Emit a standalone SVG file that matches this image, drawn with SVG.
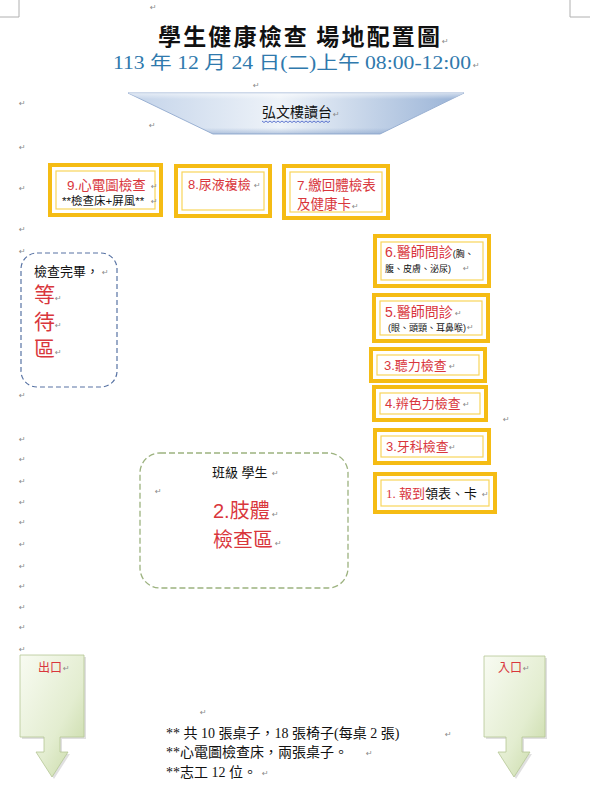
<svg xmlns="http://www.w3.org/2000/svg" width="607" height="800" viewBox="0 0 607 800">
<defs>
<linearGradient id="trapH" x1="0" y1="0" x2="1" y2="0">
<stop offset="0" stop-color="#c3d3e9"/>
<stop offset="0.45" stop-color="#eef3f9"/>
<stop offset="1" stop-color="#98b2d6"/>
</linearGradient>
<linearGradient id="trapV" x1="0" y1="0" x2="0" y2="1">
<stop offset="0" stop-color="#ffffff" stop-opacity="0.55"/>
<stop offset="0.15" stop-color="#ffffff" stop-opacity="0"/>
<stop offset="0.85" stop-color="#7f9cc6" stop-opacity="0"/>
<stop offset="1" stop-color="#7f9cc6" stop-opacity="0.5"/>
</linearGradient>
<linearGradient id="green" x1="0" y1="0" x2="1" y2="1">
<stop offset="0" stop-color="#f8fbf2"/>
<stop offset="0.6" stop-color="#e3edd0"/>
<stop offset="1" stop-color="#c4d7a0"/>
</linearGradient>
<style>
.frame{fill:#fff;stroke:#f5bc14;stroke-width:4}
.inner{fill:none;stroke:#f8d55a;stroke-width:1.2}
.red{fill:#d9363c;font-family:"Liberation Sans","Noto Sans CJK TC",sans-serif}
.blk{fill:#111;font-family:"Liberation Sans","Noto Sans CJK TC",sans-serif}
.ming{font-family:"Liberation Serif","Noto Sans CJK TC",serif}
.pm{fill:#8a8a8a;font-family:"DejaVu Sans",sans-serif;font-size:8px}
.arrow{fill:url(#green);stroke:#b5c696;stroke-width:0.8}
.shadow{fill:#000;opacity:0.12}
</style>
</defs>

<!-- page corner marks -->
<g id="corners" stroke="#b0b0b0" stroke-width="1" fill="none">
<path d="M0,17 H19 V0"/>
<path d="M570,0 V17 H590"/>
</g>

<!-- title -->
<g id="title">
<text x="158" y="45" textLength="282" font-size="23" font-weight="bold" fill="#111" font-family="'Noto Sans CJK TC',sans-serif">學生健康檢查 場地配置圖</text>
<text x="113" y="69" textLength="358" lengthAdjust="spacingAndGlyphs" font-size="18" fill="#2f79ad" font-family="'Liberation Serif','Noto Sans CJK TC',serif">113 年 12 月 24 日(二)上午 08:00-12:00</text>
</g>

<!-- stage -->
<g id="stage">
<polygon points="128,93 464,93 380,134 213,134" fill="url(#trapH)" stroke="#9ab1d3" stroke-width="1"/>
<polygon points="128,93 464,93 380,134 213,134" fill="url(#trapV)"/>
<text x="262" y="117" font-size="14" class="blk">弘文樓讀台</text>
<path d="M262,121 l2,1.5 l2,-1.5 l2,1.5 l2,-1.5 l2,1.5 l2,-1.5 l2,1.5 l2,-1.5 l2,1.5 l2,-1.5 l2,1.5 l2,-1.5 l2,1.5 l2,-1.5 l2,1.5 l2,-1.5 l2,1.5 l2,-1.5 l2,1.5 l2,-1.5 l2,1.5 l2,-1.5 l2,1.5 l2,-1.5 l2,1.5 l2,-1.5 l2,1.5 l2,-1.5 l2,1.5 l2,-1.5 l2,1.5 l2,-1.5 l2,1.5 l2,-1.5" fill="none" stroke="#3b57c4" stroke-width="0.8"/>
</g>

<!-- station 9 -->
<g id="s9">
<rect class="frame" x="50" y="165" width="111" height="50"/>
<rect class="inner" x="56" y="171" width="99" height="38"/>
<text class="red" x="67" y="190" font-size="13.5">9.心電圖檢查</text>
<text class="blk" x="62" y="205" font-size="11.5">**檢查床+屏風**</text>
</g>

<!-- station 8 -->
<g id="s8">
<rect class="frame" x="176" y="166" width="94" height="50"/>
<rect class="inner" x="182" y="172" width="82" height="38"/>
<text class="red" x="188" y="189" font-size="13">8.尿液複檢</text>
</g>

<!-- station 7 -->
<g id="s7">
<rect class="frame" x="284" y="166" width="104" height="52"/>
<rect class="inner" x="290" y="172" width="92" height="40"/>
<text class="red" x="297" y="190" font-size="13.5">7.繳回體檢表</text>
<text class="red" x="297" y="209" font-size="13.5">及健康卡</text>
</g>

<!-- station 6 -->
<g id="s6">
<rect class="frame" x="375" y="236" width="114" height="50"/>
<rect class="inner" x="381" y="242" width="102" height="38"/>
<text x="385" y="257"><tspan class="red" font-size="14">6.醫師問診</tspan><tspan class="blk" font-size="9">(胸、</tspan></text>
<text class="blk" x="385" y="272" font-size="9">腹、皮膚、泌尿)</text>
</g>

<!-- station 5 -->
<g id="s5">
<rect class="frame" x="374" y="295" width="114" height="46"/>
<rect class="inner" x="380" y="301" width="102" height="34"/>
<text class="red" x="385" y="317" font-size="14">5.醫師問診</text>
<text class="blk" x="388" y="331" font-size="9">(眼、頭頸、耳鼻喉)</text>
</g>

<!-- station 3 hearing -->
<g id="s3a">
<rect class="frame" x="371" y="349" width="114" height="32"/>
<rect class="inner" x="377" y="355" width="102" height="20"/>
<text class="red" x="384" y="370" font-size="13">3.聽力檢查</text>
</g>

<!-- station 4 -->
<g id="s4">
<rect class="frame" x="374" y="387" width="112" height="33"/>
<rect class="inner" x="380" y="393" width="100" height="21"/>
<text class="red" x="385" y="408" font-size="13">4.辨色力檢查</text>
</g>

<!-- station 3 dental -->
<g id="s3b">
<rect class="frame" x="375" y="430" width="114" height="33"/>
<rect class="inner" x="381" y="436" width="102" height="21"/>
<text class="red" x="386" y="451" font-size="13">3.牙科檢查</text>
</g>

<!-- station 1 -->
<g id="s1">
<rect class="frame" x="375" y="474" width="120" height="38"/>
<rect class="inner" x="381" y="480" width="108" height="26"/>
<text x="386" y="498" font-size="13" class="ming"><tspan fill="#d9363c">1. 報到</tspan><tspan fill="#111">領表、卡</tspan></text>
</g>

<!-- waiting area -->
<g id="waiting">
<rect x="21" y="253" width="96" height="134" rx="16" fill="none" stroke="#5873a4" stroke-width="1.2" stroke-dasharray="5,3"/>
<text class="blk" x="34" y="276" font-size="13">檢查完畢，</text>
<text class="red" x="34" y="302" font-size="21">等</text>
<text class="red" x="34" y="329" font-size="21">待</text>
<text class="red" x="34" y="356" font-size="21">區</text>
</g>

<!-- limb exam area -->
<g id="limb">
<rect x="140" y="453" width="208" height="135" rx="20" fill="none" stroke="#9cb27f" stroke-width="1.3" stroke-dasharray="6,3"/>
<text class="blk" x="212" y="477" font-size="13">班級  學生</text>
<text class="red" x="213" y="518" font-size="20">2.肢體</text>
<text class="red" x="213" y="547" font-size="20">檢查區</text>
</g>

<!-- exit -->
<g id="exit">
<path class="shadow" d="M22,657 H86 V739 H62 V754 H70 L54,779 L38,754 H46 V739 H22 Z"/>
<path class="arrow" d="M20,655 H84 V737 H60 V752 H68 L52,777 L36,752 H44 V737 H20 Z"/>
<text class="red" x="38" y="672" font-size="12">出口</text>
</g>

<!-- entrance -->
<g id="entrance">
<path class="shadow" d="M486,658 H547 V739 H524 V754 H532 L516,779 L500,754 H508 V739 H486 Z"/>
<path class="arrow" d="M484,656 H545 V737 H522 V752 H530 L514,777 L498,752 H506 V737 H484 Z"/>
<text class="red" x="498" y="672" font-size="12">入口</text>
</g>

<!-- notes -->
<g id="notes" class="ming" fill="#111" font-size="14">
<text x="166" y="738">** 共 10 張桌子，18 張椅子(每桌 2 張)</text>
<text x="166" y="757">**心電圖檢查床，兩張桌子。</text>
<text x="166" y="777">**志工 12 位。</text>
</g>

<!-- connectors (none in this layout) -->
<g id="connectors"/>

<!-- paragraph marks -->
<g id="marks" class="pm">
<text x="150" y="10">↵</text>
<text x="442" y="44">↵</text>
<text x="473" y="68">↵</text>
<text x="253" y="88">↵</text>
<text x="19" y="106">↵</text>
<text x="149" y="128">↵</text>
<text x="333" y="117">↵</text>
<text x="19" y="150">↵</text>
<text x="19" y="191">↵</text>
<text x="151" y="189">↵</text>
<text x="151" y="204">↵</text>
<text x="254" y="188">↵</text>
<text x="352" y="209">↵</text>
<text x="19" y="232">↵</text>
<text x="19" y="254">↵</text>
<text x="463" y="271">↵</text>
<text x="455" y="316">↵</text>
<text x="467" y="330">↵</text>
<text x="449" y="369">↵</text>
<text x="463" y="407">↵</text>
<text x="503" y="422">↵</text>
<text x="449" y="450">↵</text>
<text x="482" y="497">↵</text>
<text x="102" y="275">↵</text>
<text x="55" y="301">↵</text>
<text x="55" y="328">↵</text>
<text x="55" y="355">↵</text>
<text x="272" y="476">↵</text>
<text x="155" y="494">↵</text>
<text x="272" y="517">↵</text>
<text x="275" y="546">↵</text>
<text x="19" y="398">↵</text>
<text x="19" y="442">↵</text>
<text x="19" y="462">↵</text>
<text x="19" y="484">↵</text>
<text x="19" y="505">↵</text>
<text x="19" y="525">↵</text>
<text x="19" y="547">↵</text>
<text x="19" y="569">↵</text>
<text x="19" y="589">↵</text>
<text x="19" y="610">↵</text>
<text x="19" y="630">↵</text>
<text x="19" y="652">↵</text>
<text x="63" y="671">↵</text>
<text x="523" y="671">↵</text>
<text x="200" y="715">↵</text>
<text x="445" y="737">↵</text>
<text x="366" y="756">↵</text>
<text x="262" y="776">↵</text>
</g>
</svg>
